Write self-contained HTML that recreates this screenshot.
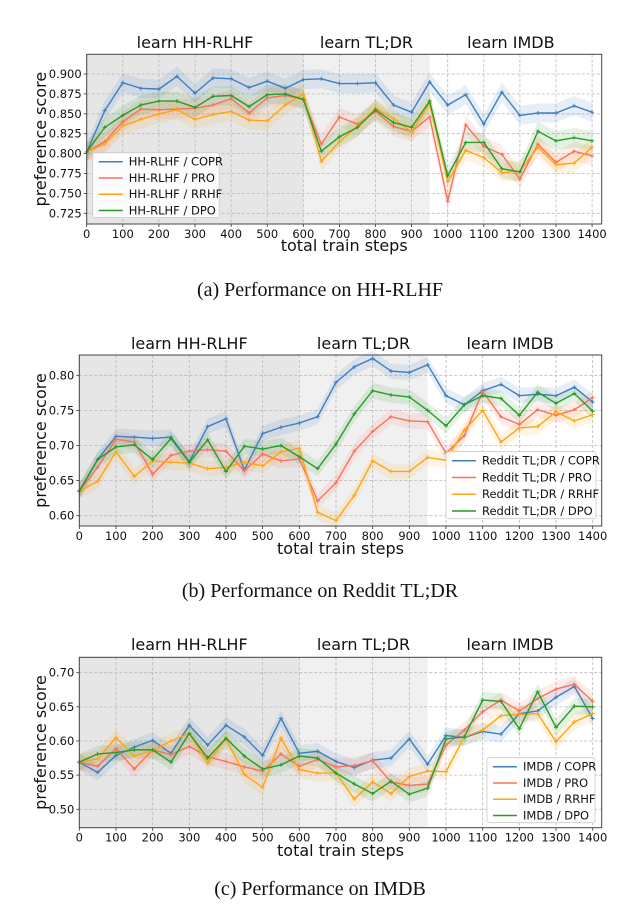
<!DOCTYPE html>
<html><head><meta charset="utf-8">
<style>
html,body{margin:0;padding:0;background:#fff;}
svg{display:block;font-family:"DejaVu Sans","Liberation Sans",sans-serif;}
.cap{font-family:"Liberation Serif",serif;font-size:20px;fill:#111;}
</style></head>
<body>
<svg id="fig" width="640" height="906" viewBox="0 0 640 906"></svg>
<script>
const steps = [0,50,100,150,200,250,300,350,400,450,500,550,600,650,700,750,800,850,900,950,1000,1050,1100,1150,1200,1250,1300,1350,1400];
const xTicks = [0,100,200,300,400,500,600,700,800,900,1000,1100,1200,1300,1400];
const phaseLabels = ["learn HH-RLHF","learn TL;DR","learn IMDB"];
const phaseBounds = [0,600,950,1400];

// chart a: HH-RLHF
const aTicks = [0.725,0.750,0.775,0.800,0.825,0.850,0.875,0.900];
const aCOPR = [0.802,0.854,0.889,0.882,0.881,0.897,0.876,0.895,0.894,0.883,0.891,0.882,0.893,0.894,0.888,0.888,0.889,0.861,0.852,0.890,0.861,0.874,0.837,0.877,0.848,0.851,0.851,0.860,0.852];
const aPRO = [0.802,0.815,0.840,0.856,0.855,0.856,0.857,0.861,0.869,0.851,0.870,0.873,0.868,0.812,0.846,0.837,0.853,0.834,0.828,0.846,0.740,0.836,0.809,0.799,0.768,0.812,0.789,0.803,0.797];
const aRRHF = [0.802,0.812,0.835,0.843,0.850,0.855,0.843,0.849,0.853,0.842,0.841,0.861,0.875,0.790,0.815,0.834,0.857,0.844,0.827,0.863,0.765,0.804,0.795,0.776,0.778,0.808,0.786,0.788,0.808];
const aDPO = [0.802,0.833,0.848,0.861,0.866,0.866,0.858,0.872,0.873,0.859,0.874,0.875,0.868,0.803,0.821,0.833,0.855,0.839,0.833,0.866,0.772,0.814,0.814,0.781,0.777,0.828,0.816,0.820,0.816];

// chart b: Reddit TL;DR
const bTicks = [0.60,0.65,0.70,0.75,0.80];
const bCOPR = [0.635,0.680,0.713,0.712,0.710,0.712,0.677,0.727,0.738,0.665,0.717,0.726,0.732,0.741,0.790,0.812,0.824,0.806,0.804,0.815,0.771,0.758,0.778,0.787,0.771,0.773,0.771,0.783,0.762];
const bPRO = [0.635,0.669,0.709,0.705,0.659,0.686,0.692,0.694,0.692,0.664,0.688,0.678,0.681,0.621,0.647,0.692,0.720,0.741,0.735,0.734,0.689,0.714,0.777,0.741,0.730,0.751,0.743,0.751,0.768];
const bRRHF = [0.635,0.649,0.691,0.656,0.678,0.676,0.675,0.667,0.669,0.676,0.671,0.691,0.696,0.605,0.593,0.629,0.678,0.663,0.663,0.683,0.679,0.722,0.750,0.705,0.725,0.727,0.748,0.735,0.744];
const bDPO = [0.635,0.680,0.698,0.701,0.680,0.710,0.676,0.708,0.663,0.699,0.695,0.700,0.684,0.667,0.702,0.745,0.778,0.772,0.769,0.750,0.728,0.758,0.771,0.767,0.743,0.776,0.760,0.774,0.749];

// chart c: IMDB
const cTicks = [0.50,0.55,0.60,0.65,0.70];
const cCOPR = [0.569,0.554,0.579,0.591,0.601,0.582,0.623,0.594,0.623,0.606,0.579,0.633,0.582,0.585,0.570,0.561,0.572,0.575,0.603,0.566,0.608,0.605,0.614,0.610,0.640,0.644,0.664,0.680,0.633];
const cPRO = [0.569,0.563,0.589,0.559,0.587,0.580,0.592,0.577,0.570,0.562,0.556,0.581,0.563,0.573,0.562,0.564,0.571,0.540,0.535,0.537,0.594,0.616,0.643,0.660,0.644,0.662,0.676,0.683,0.658];
const cRRHF = [0.569,0.574,0.605,0.578,0.586,0.600,0.611,0.568,0.603,0.551,0.532,0.604,0.558,0.553,0.553,0.515,0.540,0.523,0.548,0.556,0.555,0.606,0.616,0.637,0.639,0.640,0.599,0.628,0.640];
const cDPO = [0.569,0.581,0.583,0.587,0.587,0.569,0.611,0.575,0.604,0.578,0.559,0.565,0.578,0.575,0.553,0.537,0.523,0.541,0.522,0.531,0.603,0.606,0.660,0.658,0.618,0.672,0.620,0.651,0.650];

const methods = ["COPR","PRO","RRHF","DPO"];
const colors = ["#3f7fbf","#f8735a","#ffa514","#2a9a2a"];
const NS="http://www.w3.org/2000/svg";
const svg=document.getElementById('fig');
function mk(tag,attrs,parent){const e=document.createElementNS(NS,tag);for(const k in attrs)e.setAttribute(k,attrs[k]);(parent||svg).appendChild(e);return e;}

function drawChart(cfg){
  const g=mk('g',{});
  
  
  const xS=s=>cfg.x0+s*cfg.kx;
  const yS=v=>cfg.yRef+(cfg.vRef-v)/cfg.dv*cfg.dpx;
  const L=cfg.left,R=cfg.right,T=cfg.top,B=cfg.bottom;
  // phase shading
  const fills=["#e6e6e6","#f0f0f0","#ffffff"];
  for(let i=0;i<3;i++){
    const x1=i===0?L:xS(phaseBounds[i]);const x2=i===2?R:xS(phaseBounds[i+1]);
    const r=mk('rect',{x:x1,y:T,width:x2-x1,height:B-T,fill:fills[i]},g);
    
    
    const cx=(xS(phaseBounds[i])+xS(phaseBounds[i+1]))/2;
    const t=mk('text',{x:cx,y:cfg.titleY,'text-anchor':'middle','font-size':'16',fill:'#111'},g);
    t.textContent=phaseLabels[i];
    
    
  }
  // grid + ticks
  xTicks.forEach(s=>{
    const x=xS(s);
    mk('line',{x1:x,y1:T,x2:x,y2:B,stroke:'#b8b8b8','stroke-width':0.8,'stroke-dasharray':'3,2'},g);
    mk('line',{x1:x,y1:B,x2:x,y2:B+3,stroke:'#333','stroke-width':0.8},g);
    const t=mk('text',{x:x,y:B+14,'text-anchor':'middle','font-size':'11.5',fill:'#111'},g);
    t.textContent=s;
    
    
  });
  cfg.ticks.forEach(v=>{
    const y=yS(v);
    mk('line',{x1:L,y1:y,x2:R,y2:y,stroke:'#b8b8b8','stroke-width':0.8,'stroke-dasharray':'3,2'},g);
    mk('line',{x1:L-3,y1:y,x2:L,y2:y,stroke:'#333','stroke-width':0.8},g);
    const t=mk('text',{x:L-5,y:y+4,'text-anchor':'end','font-size':'11.5',fill:'#111'},g);
    t.textContent=v.toFixed(cfg.dec);
    
    
  });
  // series
  cfg.series.forEach((vals,i)=>{
    const up=vals.map((v,j)=>xS(steps[j])+','+yS(v+cfg.band)).join(' ');
    const dn=vals.map((v,j)=>xS(steps[j])+','+yS(v-cfg.band)).reverse().join(' ');
    const b=mk('polygon',{points:up+' '+dn,fill:colors[i],opacity:0.13},g);
    
    
  });
  cfg.series.forEach((vals,i)=>{
    const pts=vals.map((v,j)=>xS(steps[j])+','+yS(v)).join(' ');
    const l=mk('polyline',{points:pts,fill:'none',stroke:colors[i],'stroke-width':1.4},g);
    
    
    vals.forEach((v,j)=>{
      const x=xS(steps[j]),y=yS(v);
      const p=mk('path',{d:`M${x-2} ${y}H${x+2}M${x} ${y-2}V${y+2}`,stroke:colors[i],'stroke-width':1},g);
      
      
    });
  });
  const fr=mk('rect',{x:L,y:T,width:R-L,height:B-T,fill:'none',stroke:'#444','stroke-width':1},g);
  
  
  // axis titles
  const xl=mk('text',{x:(L+R)/2,y:cfg.xLabelY,'text-anchor':'middle','font-size':'16',fill:'#111'},g);
  xl.textContent='total train steps';
  
  
  const yc=(T+B)/2;
  const yl=mk('text',{x:cfg.yLabelX,y:yc,'text-anchor':'middle','font-size':'16',fill:'#111',transform:`rotate(-90 ${cfg.yLabelX} ${yc})`},g);
  yl.textContent='preference score';
  
  
  // legend
  const lg=cfg.legend;
  const lb=mk('rect',{x:lg.x,y:lg.y,width:lg.w,height:lg.h,fill:'#fff','fill-opacity':0.85,stroke:'#ccc','stroke-width':0.8,rx:2},g);
  
  
  methods.forEach((m,i)=>{
    const yy=lg.y+9+i*lg.h/4;
    mk('line',{x1:lg.x+6,y1:yy,x2:lg.x+30,y2:yy,stroke:colors[i],'stroke-width':1.5},g);
    const t=mk('text',{x:lg.x+36,y:yy+4,'font-size':'11.5',fill:'#111'},g);
    t.textContent=cfg.prefix+' / '+m;
    
    
  });
  // caption
  const c=mk('text',{x:320,y:cfg.capY,'text-anchor':'middle',class:'cap'},g);
  c.textContent=cfg.caption;
  
  
}

drawChart({name:'chart-hh-rlhf',x0:86.7,kx:0.361,left:86.7,right:601.7,top:54.3,bottom:224,
  yRef:74,vRef:0.9,dv:0.025,dpx:19.9,ticks:aTicks,dec:3,band:0.012,
  series:[aCOPR,aPRO,aRRHF,aDPO],titleY:48,xLabelY:251,yLabelX:46,
  legend:{x:92.7,y:152.7,w:126.5,h:65},prefix:'HH-RLHF',capY:296,caption:'(a) Performance on HH-RLHF'});
drawChart({name:'chart-reddit-tldr',x0:79.3,kx:0.3667,left:79.3,right:601.7,top:355,bottom:526,
  yRef:375.3,vRef:0.8,dv:0.05,dpx:35.1,ticks:bTicks,dec:2,band:0.011,
  series:[bCOPR,bPRO,bRRHF,bDPO],titleY:349,xLabelY:554,yLabelX:46,
  legend:{x:446,y:451.7,w:150,h:67},prefix:'Reddit TL;DR',capY:597,caption:'(b) Performance on Reddit TL;DR'});
drawChart({name:'chart-imdb',x0:79.3,kx:0.3667,left:79.3,right:601.7,top:657.3,bottom:827.7,
  yRef:672.7,vRef:0.7,dv:0.05,dpx:34.15,ticks:cTicks,dec:2,band:0.012,
  series:[cCOPR,cPRO,cRRHF,cDPO],titleY:650,xLabelY:856,yLabelX:46,
  legend:{x:487,y:757.7,w:108,h:65},prefix:'IMDB',capY:895,caption:'(c) Performance on IMDB'});
</script>
</body></html>
